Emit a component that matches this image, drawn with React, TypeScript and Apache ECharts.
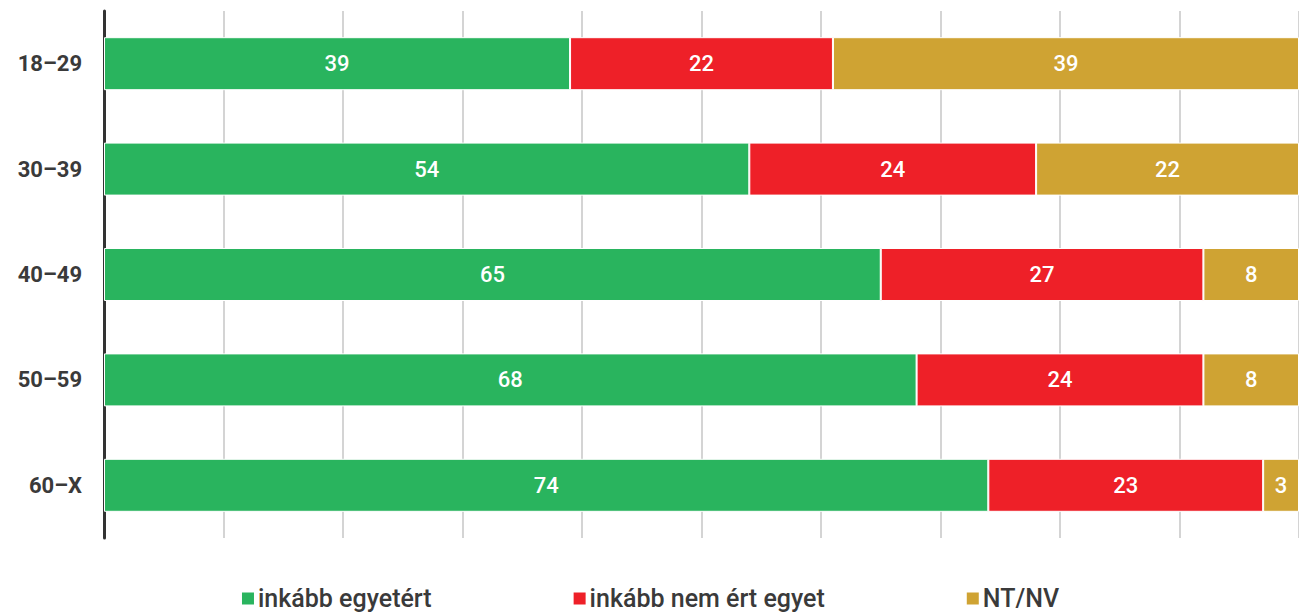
import React, { useEffect, useRef } from "react";
import * as echarts from "echarts";

const categories = ["18–29", "30–39", "40–49", "50–59", "60–X"];
const seriesNames = ["inkább egyetért", "inkább nem ért egyet", "NT/NV"];
const agree = [39, 54, 65, 68, 74];
const disagree = [22, 24, 27, 24, 23];
const dontKnow = [39, 22, 8, 8, 3];
const colors = ["#29B45E", "#EE2028", "#CFA333"];

export default function App() {
  const ref = useRef<HTMLDivElement>(null);
  useEffect(() => {
    if (!ref.current) return;
    const chart = echarts.init(ref.current, null, { renderer: "svg" });
    const font = "Roboto, 'DejaVu Sans', sans-serif";
    const mk = (name: string, data: number[], color: string) => ({
      name,
      type: "bar",
      stack: "total",
      data,
      barWidth: 53,
      itemStyle: { color, borderColor: "#ffffff", borderWidth: 1 },
      label: {
        show: true,
        position: "inside",
        color: "#ffffff",
        fontSize: 22,
        fontWeight: 500,
        fontFamily: font,
      },
    });
    chart.setOption({
      animation: false,
      color: colors,
      grid: { left: 104, right: 0, top: 11, bottom: 78, containLabel: false },
      legend: {
        bottom: 0,
        left: "center",
        itemGap: 140,
        itemWidth: 14,
        itemHeight: 14,
        icon: "rect",
        textStyle: { color: "#3a3a3a", fontSize: 25, fontWeight: 500, fontFamily: font, padding: [0, 0, 0, -2] },
      },
      xAxis: {
        type: "value",
        min: 0,
        max: 100,
        interval: 10,
        axisLabel: { show: false },
        axisLine: { show: false },
        axisTick: { show: false },
        splitLine: { show: true, lineStyle: { color: "#d4d4d4", width: 2 } },
      },
      yAxis: {
        type: "category",
        data: categories,
        inverse: true,
        axisLine: { show: true, lineStyle: { color: "#333333", width: 3 } },
        axisTick: { show: false },
        axisLabel: {
          margin: 22,
          color: "#3a3a3a",
          fontSize: 22,
          fontWeight: "bold",
          fontFamily: font,
        },
      },
      series: [
        mk(seriesNames[0], agree, colors[0]),
        mk(seriesNames[1], disagree, colors[1]),
        mk(seriesNames[2], dontKnow, colors[2]),
      ],
    });
    return () => chart.dispose();
  }, []);
  return (
    <div
      ref={ref}
      style={{ position: "absolute", left: 0, top: 0, width: 1299, height: 616 }}
    />
  );
}
